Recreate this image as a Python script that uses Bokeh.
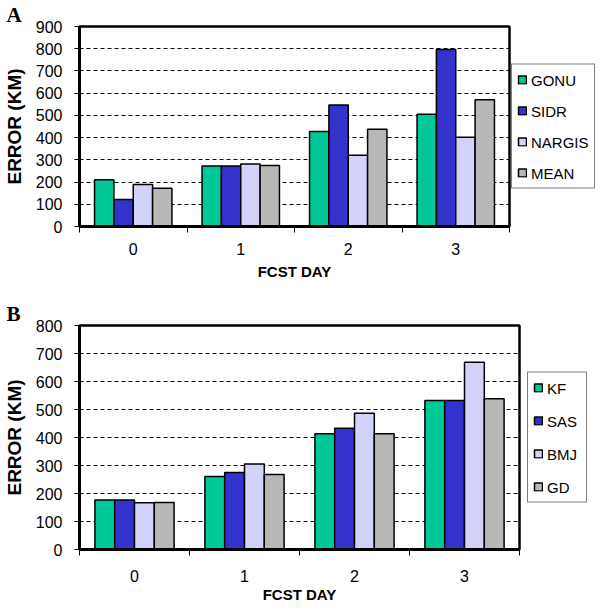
import numpy as np
from bokeh.plotting import figure
from bokeh.layouts import column
from bokeh.models import (Range1d, LinearAxis, FixedTicker, Legend, LegendItem)
from bokeh.embed import file_html
from bokeh.resources import INLINE

# ---- data ----
days = ["0", "1", "2", "3"]

a_names = ["GONU", "SIDR", "NARGIS", "MEAN"]
gonu = [210, 272, 428, 505]
sidr = [122, 272, 547, 796]
nargis = [189, 281, 321, 402]
mean = [172, 274, 438, 570]

b_names = ["KF", "SAS", "BMJ", "GD"]
kf = [177, 261, 413, 532]
sas = [177, 275, 433, 532]
bmj = [167, 305, 487, 669]
gd = [168, 268, 413, 538]

colors = ["#00C896", "#3333CC", "#D2D2FA", "#B8B8B8"]
FONT = "Liberation Sans"


def make_panel(letter, names, series, ymax, fw, fh, borders,
               leg_spacing, leg_label_width, leg_margin, xlab_standoff, xtitle_standoff):
    bl, bt, br, bb = borders
    p = figure(frame_width=fw, frame_height=fh, output_backend="svg", toolbar_location=None,
               x_range=Range1d(0, 4), y_range=Range1d(0, ymax),
               min_border_left=bl, min_border_top=bt, min_border_right=br, min_border_bottom=bb,
               x_axis_location=None, title=letter)
    p.title.text_font = "Liberation Serif"
    p.title.text_font_size = "21px"
    p.title.text_font_style = "bold"
    p.title.text_color = "black"
    p.title.align = "left"
    p.title.offset = -bl
    p.title.standoff = 0

    p.outline_line_color = "black"
    p.outline_line_width = 2.5
    p.xgrid.visible = False
    p.ygrid.ticker = FixedTicker(ticks=list(range(100, ymax, 100)))
    p.ygrid.grid_line_color = "black"
    p.ygrid.grid_line_dash = "4 3"
    p.ygrid.grid_line_width = 1

    yax = p.yaxis[0]
    yax.ticker = FixedTicker(ticks=list(range(0, ymax + 1, 100)))
    yax.axis_line_width = 3
    yax.axis_line_color = "black"
    yax.major_tick_out = 5
    yax.major_tick_in = 0
    yax.minor_tick_line_color = None
    yax.major_label_text_font = FONT
    yax.major_label_text_font_size = "16px"
    yax.major_label_text_color = "black"
    yax.major_label_standoff = 12
    yax.axis_label = "ERROR (KM)"
    yax.axis_label_text_font = FONT
    yax.axis_label_text_font_size = "19px"
    yax.axis_label_text_font_style = "bold"
    yax.axis_label_text_color = "black"
    yax.axis_label_standoff = 8

    # boundary ticks axis
    ax1 = LinearAxis(ticker=FixedTicker(ticks=[0, 1, 2, 3, 4]),
                     major_label_overrides={i: "" for i in range(5)})
    ax1.axis_line_width = 3
    ax1.axis_line_color = "black"
    ax1.major_tick_out = 6
    ax1.major_tick_in = 0
    ax1.minor_tick_line_color = None
    ax1.major_label_standoff = 0
    ax1.major_label_text_font_size = "1px"
    p.add_layout(ax1, "below")

    # category label axis
    ax2 = LinearAxis(ticker=FixedTicker(ticks=[i + 0.5 for i in range(len(days))]),
                     major_label_overrides={i + 0.5: d for i, d in enumerate(days)})
    ax2.axis_line_color = None
    ax2.major_tick_line_color = None
    ax2.minor_tick_line_color = None
    ax2.major_label_text_font = FONT
    ax2.major_label_text_font_size = "16px"
    ax2.major_label_text_color = "black"
    ax2.major_label_standoff = xlab_standoff
    ax2.axis_label = "FCST DAY"
    ax2.axis_label_text_font = FONT
    ax2.axis_label_text_font_size = "15px"
    ax2.axis_label_text_font_style = "bold"
    ax2.axis_label_text_color = "black"
    ax2.axis_label_standoff = xtitle_standoff
    p.add_layout(ax2, "below")

    offsets = [-0.27, -0.09, 0.09, 0.27]
    items = []
    base = np.arange(len(days)) + 0.5
    for name, vals, col, off in zip(names, series, colors, offsets):
        r = p.vbar(x=base + off, top=vals, width=0.18, bottom=0,
                   fill_color=col, line_color="black", line_width=1.5)
        items.append(LegendItem(label=name, renderers=[r]))

    leg = Legend(items=items, location="center_left")
    leg.border_line_color = "black"
    leg.border_line_width = 1
    leg.background_fill_color = "white"
    leg.label_text_font = FONT
    leg.label_text_font_size = "15px"
    leg.label_text_color = "black"
    leg.glyph_width = 10
    leg.glyph_height = 10
    leg.label_height = 20
    leg.label_width = leg_label_width
    leg.spacing = leg_spacing
    leg.padding = 5
    leg.label_standoff = 4
    leg.margin = leg_margin
    p.add_layout(leg, "right")
    return p


pA = make_panel("A", a_names, [gonu, sidr, nargis, mean], 900, 430, 200,
                (73, 7, 40, 73), 11, 20, 2, 4, 5)
pB = make_panel("B", b_names, [kf, sas, bmj, gd], 800, 440, 224,
                (73, 25, 40, 53), 13, 34, 8, 8, 1)

layout = column(pA, pB, spacing=0)
open("out.html", "w").write(file_html(layout, INLINE))
